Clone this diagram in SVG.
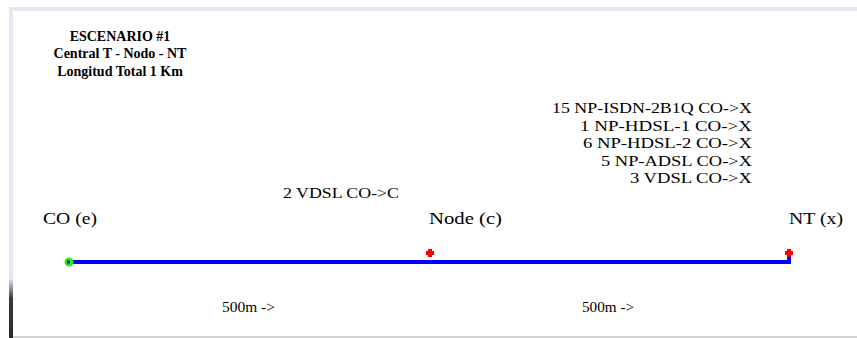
<svg xmlns="http://www.w3.org/2000/svg" width="857" height="338" viewBox="0 0 857 338">
  <defs>
    <linearGradient id="leftEdge" x1="0" y1="0" x2="0" y2="1">
      <stop offset="0" stop-color="#e2e9f5"/>
      <stop offset="0.82" stop-color="#e2e9f5"/>
      <stop offset="0.88" stop-color="#3a3a3a"/>
      <stop offset="1" stop-color="#2a2a2a"/>
    </linearGradient>
    <g id="redPlus">
      <rect x="-2" y="-4" width="4" height="8" fill="#ff0000"/>
      <rect x="-4" y="-2" width="8" height="4" fill="#ff0000"/>
    </g>
  </defs>
  <style>
    .title { font-family: "Liberation Serif", "Times New Roman", serif; font-size: 14px; font-weight: bold; fill: #000; text-anchor: middle; }
    .lbl { font-family: "Liberation Serif", "Times New Roman", serif; font-size: 15px; fill: #000; }
    .node { font-family: "Liberation Serif", "Times New Roman", serif; font-size: 16px; fill: #000; }
    .wire { stroke: #0000ff; stroke-width: 4; fill: none; }
  </style>
  <rect x="0" y="0" width="857" height="338" fill="#ffffff"/>
  <!-- frame -->
  <rect x="9" y="7" width="848" height="4" fill="#e2e9f5"/>
  <rect x="9" y="7" width="4" height="331" fill="url(#leftEdge)"/>
  <rect x="13" y="336" width="844" height="2" fill="#d4d4d4"/>

  <!-- title -->
  <g id="title">
    <text class="title" x="120" y="41">ESCENARIO #1</text>
    <text class="title" x="120" y="58">Central T - Nodo - NT</text>
    <text class="title" x="120" y="76">Longitud Total 1 Km</text>
  </g>

  <!-- connectors -->
  <g id="connectors">
    <polyline class="wire" points="69,262 789,262 789,252"/>
    <text class="lbl" x="283" y="198" textLength="116" lengthAdjust="spacingAndGlyphs">2 VDSL CO-&gt;C</text>
    <text class="lbl" x="222" y="312" textLength="53" lengthAdjust="spacingAndGlyphs">500m -&gt;</text>
    <text class="lbl" x="582" y="312" textLength="52" lengthAdjust="spacingAndGlyphs">500m -&gt;</text>
    <g id="servicesNT">
      <text class="lbl" x="552" y="113" textLength="200" lengthAdjust="spacingAndGlyphs">15 NP-ISDN-2B1Q CO-&gt;X</text>
      <text class="lbl" x="580" y="130.5" textLength="172" lengthAdjust="spacingAndGlyphs">1 NP-HDSL-1 CO-&gt;X</text>
      <text class="lbl" x="583" y="148" textLength="169" lengthAdjust="spacingAndGlyphs">6 NP-HDSL-2 CO-&gt;X</text>
      <text class="lbl" x="601" y="165.5" textLength="151" lengthAdjust="spacingAndGlyphs">5 NP-ADSL CO-&gt;X</text>
      <text class="lbl" x="630" y="183" textLength="122" lengthAdjust="spacingAndGlyphs">3 VDSL CO-&gt;X</text>
    </g>
  </g>

  <!-- nodes -->
  <g id="node-co">
    <text class="node" x="43" y="224" textLength="54" lengthAdjust="spacingAndGlyphs">CO (e)</text>
    <circle cx="69" cy="262" r="4.5" fill="#22ee22"/>
    <rect x="67" y="260.5" width="3" height="3" fill="#1010cc"/>
  </g>
  <g id="node-c">
    <text class="node" x="429" y="224" textLength="73" lengthAdjust="spacingAndGlyphs">Node (c)</text>
    <use href="#redPlus" x="430" y="253"/>
  </g>
  <g id="node-nt">
    <text class="node" x="789" y="224" textLength="54" lengthAdjust="spacingAndGlyphs">NT (x)</text>
    <use href="#redPlus" x="789" y="253"/>
  </g>
</svg>
